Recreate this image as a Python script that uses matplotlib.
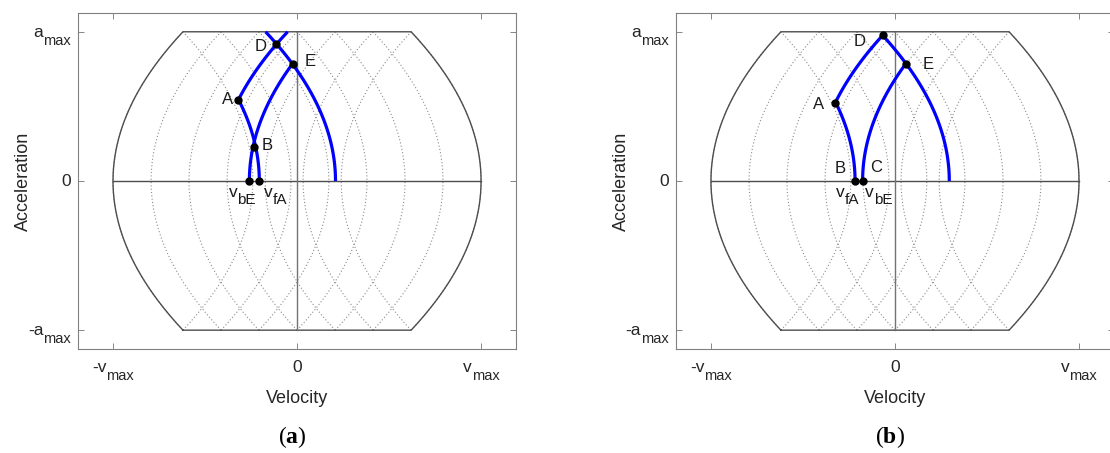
import numpy as np
import matplotlib
matplotlib.use('Agg')
import matplotlib.pyplot as plt

plt.rcParams['font.family'] = ['Liberation Sans', 'DejaVu Sans']
plt.rcParams['mathtext.fontset'] = 'custom'
plt.rcParams['mathtext.rm'] = 'Liberation Serif'
plt.rcParams['mathtext.bf'] = 'Liberation Serif:bold'

# everything normalised: v / vmax, a / amax
v_corner = 0.62                       # |v| where boundary meets a = +-amax
k = 1 - v_corner                      # a^2 coefficient of the parabolas
grid_starts = [-0.62, -0.413, -0.207, 0.0, 0.207, 0.413, 0.62]

# blue curves: (v at a=0, +1 / -1 bend, a from, a to)
curves_a = [(0.209, -1, 0.0, 1.0),
            (-0.259, 1, 0.0, 0.785),
            (-0.205, -1, 0.0, 0.544),
            (-0.431, 1, 0.544, 1.0)]
curves_b = [(0.295, -1, 0.0, 0.976),
            (-0.176, 1, 0.0, 0.787),
            (-0.217, -1, 0.0, 0.521),
            (-0.429, 1, 0.521, 0.976)]

# marked points
pts_a_v = [-0.319, -0.236, -0.112, -0.024, -0.259, -0.205]
pts_a_a = [0.544, 0.23, 0.92, 0.785, 0.0, 0.0]
pts_b_v = [-0.326, -0.217, -0.176, -0.067, 0.062]
pts_b_a = [0.521, 0.0, 0.0, 0.976, 0.787]

# point labels: text, subscript, v, a
labels_a = [('A', '', -0.377, 0.544), ('B', '', -0.16, 0.235), ('D', '', -0.196, 0.90),
            ('E', '', 0.074, 0.80), ('v', 'bE', -0.298, -0.11), ('v', 'fA', -0.119, -0.11)]
labels_b = [('A', '', -0.417, 0.51), ('B', '', -0.299, 0.085), ('C', '', -0.105, 0.09),
            ('D', '', -0.19, 0.935), ('E', '', 0.178, 0.78),
            ('v', 'fA', -0.256, -0.11), ('v', 'bE', -0.09, -0.11)]

ticks = [-1, 0, 1]
xtick_labels = [('-v', 'max'), ('0', ''), ('v', 'max')]
ytick_labels = [('-a', 'max'), ('0', ''), ('a', 'max')]

fig = plt.figure(figsize=(11.1, 4.53), dpi=100)
renderer = fig.canvas.get_renderer()


def text_width(s, fs):
    if not s:
        return 0.0
    t = fig.text(0, 0, s, fontsize=fs)
    w = t.get_window_extent(renderer=renderer).width
    t.remove()
    return w


def sub_label(ax, x, y, base, sub, fs, sfs, trans, ha, base_dy, sub_dy=8,
              dx=0, color='0.1'):
    # MATLAB-style subscript shifted down; offsets in pixels
    wb = text_width(base, fs)
    ws = text_width(sub, sfs)
    w = wb + ws
    x0 = {'center': -w / 2, 'right': -w, 'left': 0}[ha] + dx
    ax.annotate(base, (x, y), xycoords=trans, xytext=(x0 * 0.72, -base_dy * 0.72),
                textcoords='offset points', ha='left', va='baseline', fontsize=fs,
                color=color, annotation_clip=False)
    if sub:
        ax.annotate(sub, (x, y), xycoords=trans,
                    xytext=((x0 + wb) * 0.72, -(base_dy + sub_dy) * 0.72),
                    textcoords='offset points', ha='left', va='baseline', fontsize=sfs,
                    color=color, annotation_clip=False)


def draw_panel(ax, curves, pv, pa, labels):
    aa = np.linspace(-1, 1, 200)
    # dotted construction parabolas
    for p in grid_starts:
        ax.plot(p - k + k * aa**2, aa, ls=(0, (1, 2)), lw=0.8, color='0.55')
        ax.plot(p + k - k * aa**2, aa, ls=(0, (1, 2)), lw=0.8, color='0.55')
    # feasible region boundary
    bx = np.concatenate([-1 + k * aa**2, [v_corner], 1 - k * aa[::-1]**2, [-v_corner]])
    by = np.concatenate([aa, [1], aa[::-1], [-1]])
    ax.plot(np.append(bx, bx[0]), np.append(by, by[0]), color='0.3', lw=1.0)
    ax.plot([-1, 1], [0, 0], color='0.3', lw=1.0)
    ax.plot([0, 0], [-1, 1], color='0.45', lw=1.0)
    for v0, s, a0, a1 in curves:
        a = np.linspace(a0, a1, 100)
        ax.plot(v0 + s * k * a**2, a, color='blue', lw=2.3, solid_capstyle='butt')
    ax.plot(pv, pa, 'o', color='black', ms=5, zorder=5)

    ax.set_xlim(-1.19, 1.19)
    ax.set_ylim(-1.128, 1.128)
    ax.set_xticks(ticks)
    ax.set_xticklabels([])
    ax.set_yticks(ticks)
    ax.set_yticklabels([])
    ax.tick_params(direction='in', length=4, width=0.6, color='0.45',
                   top=True, right=True)
    for sp in ax.spines.values():
        sp.set_color('0.5')
        sp.set_linewidth(0.8)

    for t, s, x, y in labels:
        if s:
            sub_label(ax, x, y, t, s, 12.5, 11, ax.transData, 'center', 0, sub_dy=7)
        else:
            ax.text(x, y, t, ha='center', va='center', fontsize=12, color='0.1')
    for val, (b, s) in zip(ticks, xtick_labels):
        sub_label(ax, val, 0, b, s, 12.5, 10.5, ax.get_xaxis_transform(), 'center', 23,
                  color='0.15')
    for val, (b, s) in zip(ticks, ytick_labels):
        sub_label(ax, 0, val, b, s, 12.5, 10.5, ax.get_yaxis_transform(), 'right', 5,
                  dx=-7, color='0.15')
    ax.set_xlabel('Velocity', fontsize=13, color='0.15')
    ax.xaxis.set_label_coords(0.5, -0.122)
    ax.set_ylabel('Acceleration', fontsize=13, color='0.15')
    ax.yaxis.set_label_coords(-0.105, 0.5)


ax1 = fig.add_axes([0.0703, 0.229, 0.3946, 0.743])
ax2 = fig.add_axes([0.609, 0.229, 0.3946, 0.743])
draw_panel(ax1, curves_a, pts_a_v, pts_a_a, labels_a)
draw_panel(ax2, curves_b, pts_b_v, pts_b_a, labels_b)

fig.text(0.263, 0.035, r'($\mathbf{a}$)', family='Liberation Serif',
         fontsize=17, ha='center', va='center')
fig.text(0.802, 0.035, r'($\mathbf{b}$)', family='Liberation Serif',
         fontsize=17, ha='center', va='center')

fig.savefig('out.png', dpi=100)
